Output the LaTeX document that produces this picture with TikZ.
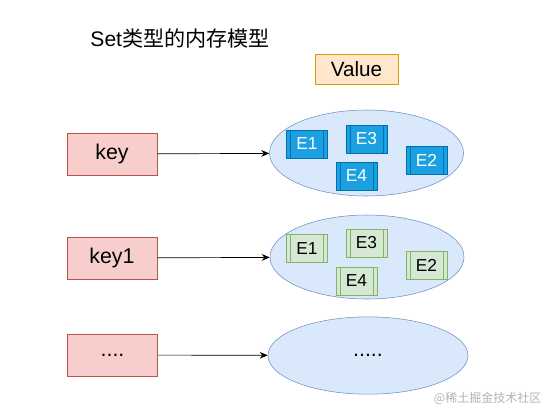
\documentclass[tikz,border=0pt]{standalone}
\usepackage{fontspec}
\setmainfont{Liberation Sans}
\newfontfamily\cjkfont{Noto Sans CJK SC}
\usetikzlibrary{shapes.geometric,arrows.meta,positioning}
\definecolor{keyfill}{HTML}{F8CECC}
\definecolor{keyline}{HTML}{B85450}
\definecolor{valfill}{HTML}{FFE6CC}
\definecolor{valline}{HTML}{D79B00}
\definecolor{setfill}{HTML}{DAE8FC}
\definecolor{setline}{HTML}{6C8EBF}
\definecolor{eblue}{HTML}{1BA1E2}
\definecolor{ebluebd}{HTML}{006EAF}
\definecolor{egreen}{HTML}{D5E8D4}
\definecolor{egreenbd}{HTML}{82B366}

\tikzset{
  keybox/.style={draw=keyline, fill=keyfill, minimum width=67.5pt, minimum height=31.5pt,
    inner sep=0pt, font=\fontsize{16}{18}\selectfont},
  setbox/.style={ellipse, draw=setline, fill=setfill, inner sep=0pt,
    font=\fontsize{16}{18}\selectfont},
  elem/.style={draw=#1bd, fill=#1, minimum width=30.75pt, minimum height=21pt, inner sep=0pt,
    font=\fontsize{13}{15}\selectfont,
    path picture={
      \draw[#1bd] ([xshift=3pt]path picture bounding box.north west) -- ([xshift=3pt]path picture bounding box.south west);
      \draw[#1bd] ([xshift=-3pt]path picture bounding box.north east) -- ([xshift=-3pt]path picture bounding box.south east);
    }},
  link/.style={-{Stealth[length=6pt,width=5pt]}, line width=0.5pt}
}

\begin{document}
\begin{tikzpicture}[x=0.75pt, y=-0.75pt]
  \useasboundingbox (0,0) rectangle (548,408);

  % title and value label
  \node (title) at (180,38) {\fontsize{15.8}{18}\selectfont Set\cjkfont 类型的内存模型};
  \node[draw=valline, fill=valfill, minimum width=62pt, minimum height=22.5pt, inner sep=0pt,
        font=\fontsize{15.5}{18}\selectfont] (value) at (356.5,69) {Value};

  % keys
  \node[keybox] (key) at (112,154) {key};
  \node[keybox] (keyone) at (112,258) {key1};
  \node[keybox] (keydots) at (112.5,355) {....};

  % sets
  \node[setbox, minimum width=145.5pt, minimum height=64.5pt] (setA) at (366.5,153) {};
  \node[setbox, minimum width=145.5pt, minimum height=63pt] (setB) at (367,257) {};
  \node[setbox, minimum width=150pt, minimum height=58pt] (setC) at (368,355.5) {.....};

  % elements
  \foreach \nm/\x/\y/\yy in {E1/307/144/248.5, E3/366.5/139/243, E4/356.5/176/281, E2/426.5/160.5/265} {
    \node[elem=eblue, text=white] (blue\nm) at (\x,\y) {\nm};
    \node[elem=egreen] (green\nm) at (\x,\yy) {\nm};
  }

  % links
  \draw[link] (key) -- (setA);
  \draw[link] (keyone) -- (setB);
  \draw[link] (keydots) -- (setC);

  \node[text=gray!60, font=\cjkfont\fontsize{9}{10}\selectfont, anchor=east] (mark) at (546,398) {@稀土掘金技术社区};
\end{tikzpicture}
\end{document}
